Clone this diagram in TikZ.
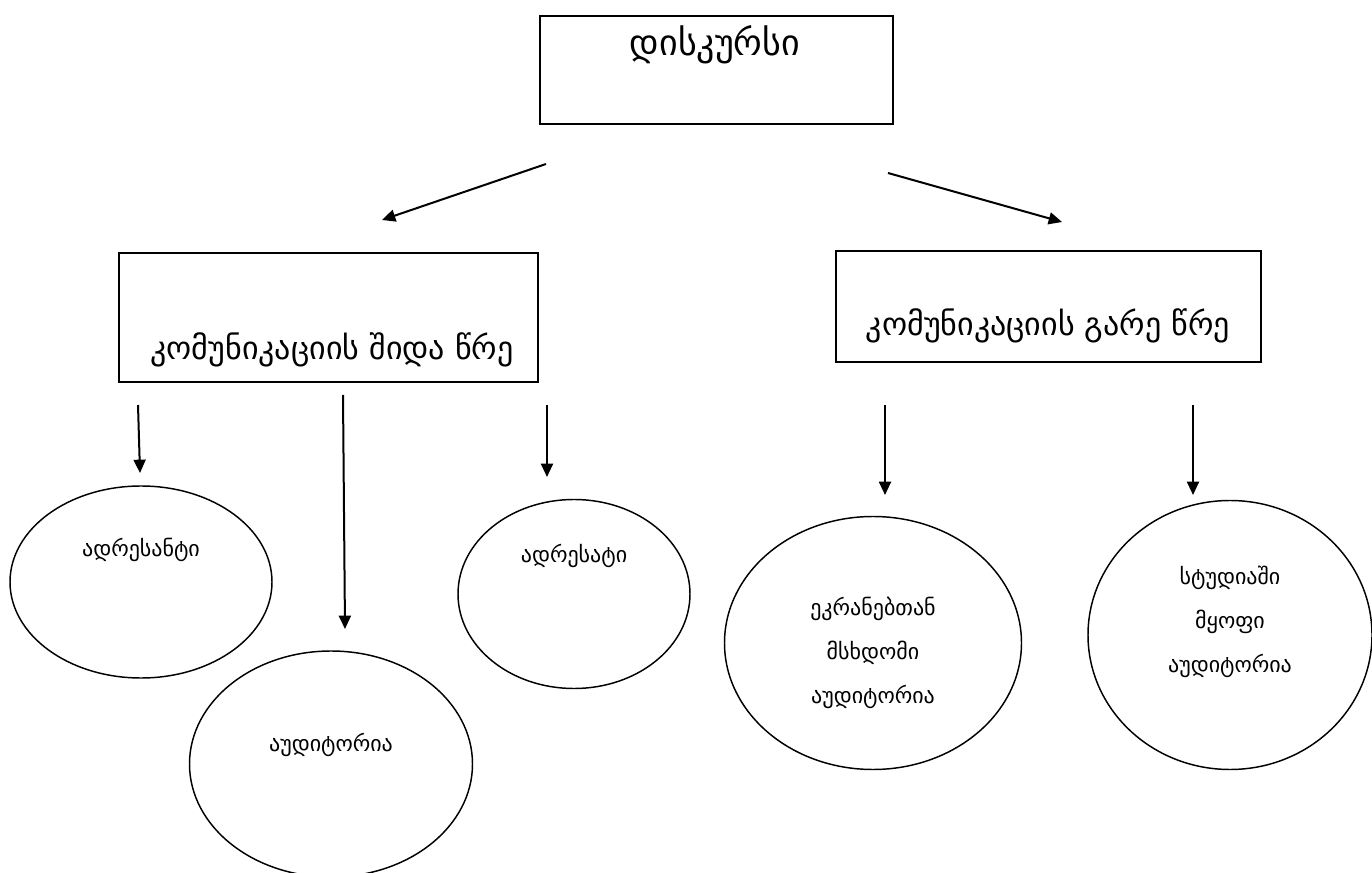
\documentclass[tikz,border=0pt]{standalone}
\usepackage{fontspec}
\setmainfont{DejaVu Sans}
\usetikzlibrary{shapes.geometric,arrows.meta}
\begin{document}
\begin{tikzpicture}[x=0.75pt,y=-0.75pt,
  box/.style={draw, line width=1.5pt, rectangle, inner sep=0pt},
  oval/.style={draw, line width=1.1pt, ellipse, inner sep=0pt},
  arr/.style={line width=1.5pt, -{Triangle[length=10pt,width=9pt]}},
  titletxt/.style={font=\fontsize{27}{30}\selectfont, inner sep=0pt},
  boxtxt/.style={font=\fontsize{24}{28}\selectfont, inner sep=0pt},
  ovtxt/.style={font=\fontsize{16.5}{33}\selectfont, align=center, inner sep=0pt}]
\useasboundingbox (0,0) rectangle (1372,873);
\fill[white] (0,0) rectangle (1372,873);
% boxes
\node[box, minimum width=264.75pt, minimum height=81pt] (top) at (716.5,70) {};
\node[box, minimum width=314.25pt, minimum height=96.75pt] (inner) at (328,317.5) {};
\node[box, minimum width=318.75pt, minimum height=83.25pt] (outer) at (1048.5,306.5) {};
\node[titletxt] (ttop) at (715,45) {დისკურსი};
\node[boxtxt] (tinner) at (332,350) {კომუნიკაციის შიდა წრე};
\node[boxtxt] (touter) at (1048,326) {კომუნიკაციის გარე წრე};
% ellipses
\node[oval, minimum width=196.5pt, minimum height=144pt] (e1) at (141,582) {};
\node[oval, minimum width=212.25pt, minimum height=169.5pt] (e2) at (331,764) {};
\node[oval, minimum width=174pt, minimum height=141.75pt] (e3) at (574,594) {};
\node[oval, minimum width=222.75pt, minimum height=189.75pt] (e4) at (873,643) {};
\node[oval, minimum width=213pt, minimum height=201.75pt] (e5) at (1230,635) {};
\node[ovtxt] (t1) at (141,550) {ადრესანტი};
\node[ovtxt] (t2) at (331,745) {აუდიტორია};
\node[ovtxt] (t3) at (574,556) {ადრესატი};
\node[ovtxt] (t4) at (873,653) {ეკრანებთან\\მსხდომი\\აუდიტორია};
\node[ovtxt] (t5) at (1230,622) {სტუდიაში\\მყოფი\\აუდიტორია};
% arrow endpoints
\coordinate (a1s) at (546,164); \coordinate (a1e) at (382,220);
\coordinate (a2s) at (888,173); \coordinate (a2e) at (1062,222);
\coordinate (b1s) at (138,405); \coordinate (b1e) at (140,473);
\coordinate (b2s) at (343,395); \coordinate (b2e) at (345,629);
\coordinate (b3s) at (547,405); \coordinate (b3e) at (547,477);
\coordinate (b4s) at (885,405); \coordinate (b4e) at (885,495);
\coordinate (b5s) at (1193,405); \coordinate (b5e) at (1193,495);
\draw[arr] (a1s) -- (a1e);
\draw[arr] (a2s) -- (a2e);
\draw[arr] (b1s) -- (b1e);
\draw[arr] (b2s) -- (b2e);
\draw[arr] (b3s) -- (b3e);
\draw[arr] (b4s) -- (b4e);
\draw[arr] (b5s) -- (b5e);
\end{tikzpicture}
\end{document}
